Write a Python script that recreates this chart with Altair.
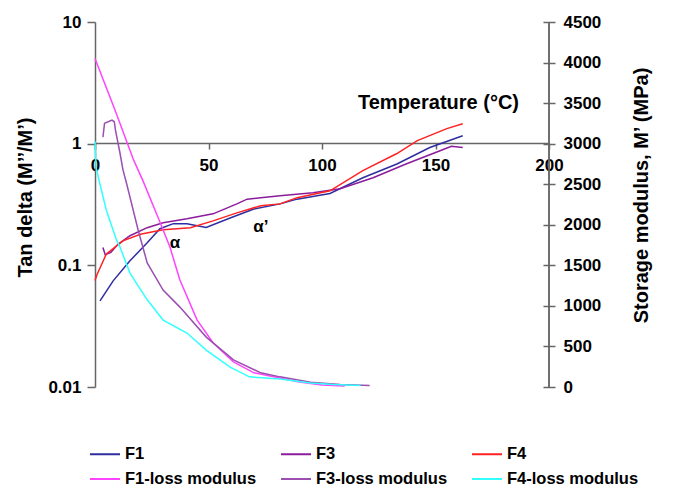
import altair as alt
import pandas as pd

# ---- data ----
# Tan delta curves (left, log axis)
f1_t = [2.2, 8, 15.4, 23, 28.6, 34.5, 40.5, 49, 59.5, 70, 81.5, 89, 103.5, 118, 133, 147.5, 162]
f1_v = [0.051, 0.0745, 0.109, 0.153, 0.20, 0.22, 0.22, 0.205, 0.245, 0.29, 0.32, 0.35, 0.39, 0.525, 0.68, 0.93, 1.16]

f3_t = [3.5, 4.5, 7, 10, 15.4, 23, 30, 40.5, 52, 62.5, 67, 73, 81.5, 96, 108, 122.5, 137, 152, 157, 162]
f3_v = [0.14, 0.122, 0.128, 0.148, 0.175, 0.204, 0.224, 0.241, 0.265, 0.32, 0.35, 0.36, 0.373, 0.395, 0.426, 0.525, 0.68, 0.875, 0.95, 0.93]

f4_t = [0, 1, 5, 12.3, 20, 30, 42, 52, 62.5, 73, 81.5, 89, 103.5, 118, 133, 142, 155, 162]
f4_v = [0.075, 0.085, 0.124, 0.159, 0.18, 0.196, 0.204, 0.232, 0.27, 0.309, 0.32, 0.36, 0.41, 0.6, 0.83, 1.06, 1.33, 1.46]

# Loss modulus curves (right, linear axis, MPa)
f1l_t = [0, 8.8, 17, 21, 28.6, 33, 37.4, 45, 52, 61, 70, 81.5, 90, 100, 110]
f1l_v = [4050, 3415, 2800, 2550, 2035, 1725, 1320, 825, 545, 310, 175, 110, 60, 25, 12]

f3l_t = [3.5, 4.2, 7.5, 8.5, 9, 11, 12.3, 14, 19, 23, 30, 37.4, 49, 61, 73, 81.5, 95, 108, 121]
f3l_v = [3080, 3250, 3290, 3270, 3170, 2885, 2680, 2500, 1935, 1530, 1195, 985, 615, 335, 175, 125, 60, 30, 20]

f4l_t = [0, 0.5, 2.2, 5, 9.5, 11, 15.4, 23, 30, 40.5, 49, 59.5, 68, 81.5, 95, 105, 117]
f4l_v = [3030, 2700, 2500, 2180, 1810, 1725, 1405, 1075, 825, 665, 455, 245, 125, 100, 50, 30, 20]

series = ["F1", "F3", "F4", "F1-loss modulus", "F3-loss modulus", "F4-loss modulus"]
colors = ["#2E2EA0", "#8B1C9C", "#FF2222", "#FF44FF", "#9B4FB0", "#33FFFF"]

ann_text = ["α", "α’"]
ann_t = [35.2, 73.1]
ann_v = [0.153, 0.207]

x_ticks = [0, 50, 100, 150, 200]
left_ticks = [0.01, 0.1, 1, 10]
right_ticks = [0, 500, 1000, 1500, 2000, 2500, 3000, 3500, 4000, 4500]


def long(ts, vs, name):
    return pd.DataFrame({"T": ts, "value": vs, "series": name})


tan_df = pd.concat([long(f1_t, f1_v, "F1"), long(f3_t, f3_v, "F3"), long(f4_t, f4_v, "F4")])
mod_df = pd.concat([long(f1l_t, f1l_v, "F1-loss modulus"),
                    long(f3l_t, f3l_v, "F3-loss modulus"),
                    long(f4l_t, f4l_v, "F4-loss modulus")])
ann_df = pd.DataFrame({"T": ann_t, "value": ann_v, "text": ann_text})

FONT = "Liberation Sans"
GRAY = "#666666"

x_enc = alt.X("T:Q", scale=alt.Scale(domain=[0, 200], nice=False, zero=False),
              axis=alt.Axis(values=x_ticks, offset=-244, title="Temperature (°C)",
                            titleX=343, titleY=-41, titleAlign="center", titleBaseline="middle",
                            tickSize=6, labelPadding=8, grid=False, labelFlush=False))

y_left = alt.Y("value:Q", scale=alt.Scale(type="log", domain=[0.01, 10], nice=False),
               axis=alt.Axis(values=left_ticks, format="~g", title="Tan delta (M’’/M’)",
                             titleX=-70, titleY=175, titleAngle=-90, titleAlign="center",
                             titleBaseline="middle", tickSize=8, labelPadding=6, grid=False))

y_right = alt.Y("value:Q", scale=alt.Scale(domain=[0, 4500], nice=False, zero=True),
                axis=alt.Axis(values=right_ticks, format="d", orient="right", offset=-6,
                              domain=False, tickSize=12, labelPadding=8,
                              title="Storage modulus, M’ (MPa)", titleX=98, titleY=173,
                              titleAngle=-90, titleAlign="center", titleBaseline="middle",
                              grid=False))

color_scale = alt.Scale(domain=series, range=colors)

tan_lines = alt.Chart(tan_df).mark_line(strokeWidth=1.5).encode(
    x=x_enc, y=y_left,
    color=alt.Color("series:N", scale=color_scale,
                    legend=alt.Legend(title=None, orient="none", legendX=-6, legendY=416,
                                      direction="horizontal", columns=3, gridAlign="all",
                                      symbolType="stroke", symbolSize=900,
                                      symbolStrokeWidth=2, labelFont=FONT, labelFontSize=16.5,
                                      labelFontWeight="bold", labelColor="black", labelOffset=4,
                                      columnPadding=20, rowPadding=-5, labelLimit=300)),
    detail="series:N",
)

ann = alt.Chart(ann_df).mark_text(font=FONT, fontSize=17, fontWeight="bold", color="black").encode(
    x=x_enc, y=y_left, text="text:N")

left_layer = alt.layer(tan_lines, ann)

mod_lines = alt.Chart(mod_df).mark_line(strokeWidth=1.5).encode(
    x=x_enc, y=y_right,
    color=alt.Color("series:N", scale=color_scale),
    detail="series:N",
)

right_domain = alt.Chart(ann_df).mark_rule(color=GRAY, strokeWidth=1.5).encode(
    x=alt.value(454), y=alt.value(0), y2=alt.value(365))

chart = alt.layer(left_layer, mod_lines, right_domain).resolve_scale(
    y="independent"
).properties(
    width=454, height=365,
    autosize=alt.AutoSizeParams(type="none"),
    padding={"left": 87, "top": 14, "right": 121, "bottom": 102},
).configure_view(stroke=None).configure_axis(
    labelFont=FONT, labelFontSize=17, labelFontWeight="bold", labelColor="black",
    titleFont=FONT, titleFontSize=20, titleFontWeight="bold", titleColor="black",
    domainColor=GRAY, tickColor=GRAY, domainWidth=1.5, tickWidth=1.5,
)

chart.save("out.html", embed_options={"renderer": "svg", "actions": False})
